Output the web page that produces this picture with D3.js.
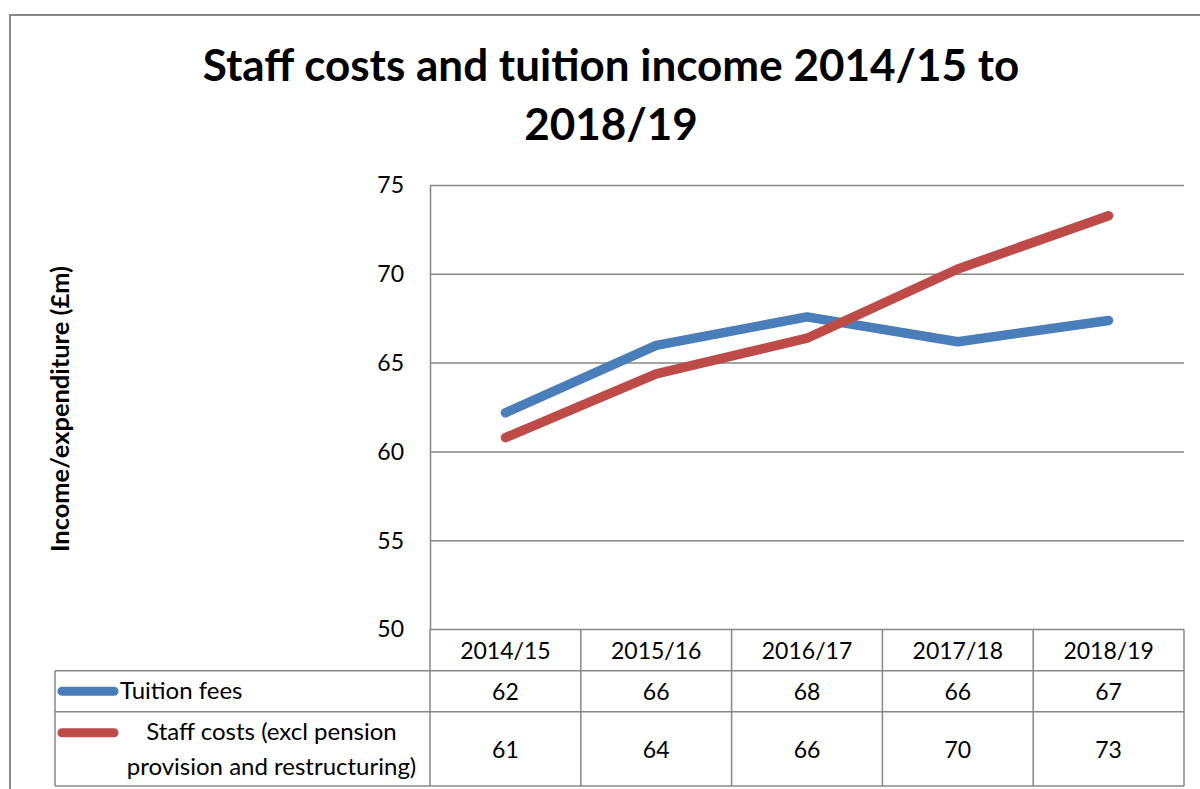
<!DOCTYPE html>
<html>
<head>
<meta charset="utf-8">
<script src="https://cdn.jsdelivr.net/npm/d3@7"></script>
<style>
  html, body { margin: 0; padding: 0; background: #fff; }
  svg { display: block; font-family: Lato, "Open Sans", sans-serif; }
</style>
</head>
<body>
<svg id="chart" width="1200" height="789"></svg>
<script>
// Academic years shown on the category axis and in the data table
const years = ["2014/15", "2015/16", "2016/17", "2017/18", "2018/19"];
// Tuition fee income, £m
const tuitionFees = [62.2, 66.0, 67.6, 66.2, 67.4];
// Staff costs excluding pension provision and restructuring, £m
const staffCosts = [60.8, 64.4, 66.4, 70.3, 73.3];
// Value axis ticks
const yTicks = [50, 55, 60, 65, 70, 75];

const series = [
  { name: ["Tuition fees"], values: tuitionFees, color: "#4a7ebb" },
  { name: ["Staff costs (excl pension", "provision and restructuring)"], values: staffCosts, color: "#be4b48" }
];

const svg = d3.select("#chart");
const gridColor = "#878787";
const textSize = 24;
const numSize = 23;

const plot = { left: 430, right: 1184, top: 185.5, bottom: 629.5 };

const x = d3.scaleBand().domain(years).range([plot.left, plot.right]);
const y = d3.scaleLinear().domain([50, 75]).range([plot.bottom, plot.top]);

// Chart area frame
svg.append("rect")
  .attr("x", 10).attr("y", 15)
  .attr("width", 1300).attr("height", 900)
  .attr("fill", "#fff")
  .attr("stroke", gridColor).attr("stroke-width", 2);

// Title
const title = svg.append("text")
  .attr("text-anchor", "middle")
  .attr("font-weight", 700)
  .attr("font-size", 44)
  .attr("fill", "#000");
title.append("tspan").attr("x", 611).attr("y", 81).text("Staff costs and tuition income 2014/15 to");
title.append("tspan").attr("x", 611).attr("y", 140).text("2018/19");

// Value axis title
svg.append("text")
  .attr("transform", `translate(69,409) rotate(-90)`)
  .attr("text-anchor", "middle")
  .attr("font-weight", 700)
  .attr("font-size", 24)
  .attr("textLength", 286)
  .attr("lengthAdjust", "spacingAndGlyphs")
  .text("Income/expenditure (£m)");

// Horizontal gridlines
svg.append("g")
  .selectAll("line")
  .data(yTicks.filter(t => t > 50))
  .join("line")
  .attr("x1", plot.left).attr("x2", plot.right)
  .attr("y1", d => y(d)).attr("y2", d => y(d))
  .attr("stroke", gridColor).attr("stroke-width", 1.5);

// Value axis with labels
const yAxis = svg.append("g")
  .attr("transform", `translate(${plot.left},0)`)
  .call(d3.axisLeft(y).tickValues(yTicks).tickSize(0).tickPadding(26));
yAxis.select(".domain").attr("stroke", gridColor).attr("stroke-width", 1.5);
yAxis.selectAll("text")
  .attr("font-family", "Lato, sans-serif")
  .attr("font-size", numSize)
  .attr("fill", "#000");

// Data table grid
const rowTops = [plot.bottom, 670.7, 711.7, 786];
const tableLeft = 55;
const table = svg.append("g").attr("stroke", gridColor).attr("stroke-width", 1.5);
// category column separators
table.selectAll("line.col")
  .data(years.map(d => x(d)).concat([plot.right]))
  .join("line")
  .attr("class", "col")
  .attr("x1", d => d).attr("x2", d => d)
  .attr("y1", rowTops[0]).attr("y2", rowTops[3]);
// x axis line / header top
table.append("line")
  .attr("x1", plot.left).attr("x2", plot.right)
  .attr("y1", rowTops[0]).attr("y2", rowTops[0]);
// row separators spanning the legend column
table.selectAll("line.row")
  .data(rowTops.slice(1))
  .join("line")
  .attr("class", "row")
  .attr("x1", tableLeft).attr("x2", plot.right)
  .attr("y1", d => d).attr("y2", d => d);
table.append("line")
  .attr("x1", tableLeft).attr("x2", tableLeft)
  .attr("y1", rowTops[1]).attr("y2", rowTops[3]);

// Header row: categories
svg.append("g")
  .selectAll("text")
  .data(years)
  .join("text")
  .attr("x", d => x(d) + x.bandwidth() / 2)
  .attr("y", (rowTops[0] + rowTops[1]) / 2 + 1)
  .attr("dy", "0.35em")
  .attr("text-anchor", "middle")
  .attr("font-size", numSize)
  .text(d => d);

// Series rows: legend key, name and rounded values
const fmt = d3.format(".0f");
series.forEach((s, i) => {
  const top = rowTops[i + 1], bottom = rowTops[i + 2];
  const mid = (top + bottom) / 2;
  const row = svg.append("g");

  const keyY = s.name.length > 1 ? top + 21 : mid;
  row.append("line")
    .attr("x1", 62).attr("x2", 114)
    .attr("y1", keyY).attr("y2", keyY)
    .attr("stroke", s.color).attr("stroke-width", 9)
    .attr("stroke-linecap", "round");

  if (s.name.length === 1) {
    row.append("text")
      .attr("x", 120).attr("y", mid + 7.5)
      .attr("font-size", textSize)
      .text(s.name[0]);
  } else {
    const t = row.append("text")
      .attr("text-anchor", "middle")
      .attr("font-size", textSize);
    s.name.forEach((line, k) => {
      t.append("tspan")
        .attr("x", 271.5)
        .attr("y", 740 + k * 35)
        .text(line);
    });
  }

  row.selectAll("text.val")
    .data(s.values)
    .join("text")
    .attr("class", "val")
    .attr("x", (d, j) => x(years[j]) + x.bandwidth() / 2)
    .attr("y", mid + 1)
    .attr("dy", "0.35em")
    .attr("text-anchor", "middle")
    .attr("font-size", numSize)
    .text(d => fmt(d));
});

// Series lines
const line = d3.line()
  .x((d, j) => x(years[j]) + x.bandwidth() / 2)
  .y(d => y(d));

svg.append("g")
  .selectAll("path")
  .data(series)
  .join("path")
  .attr("d", d => line(d.values))
  .attr("fill", "none")
  .attr("stroke", d => d.color)
  .attr("stroke-width", 9.5)
  .attr("stroke-linecap", "round")
  .attr("stroke-linejoin", "round");
</script>
</body>
</html>
